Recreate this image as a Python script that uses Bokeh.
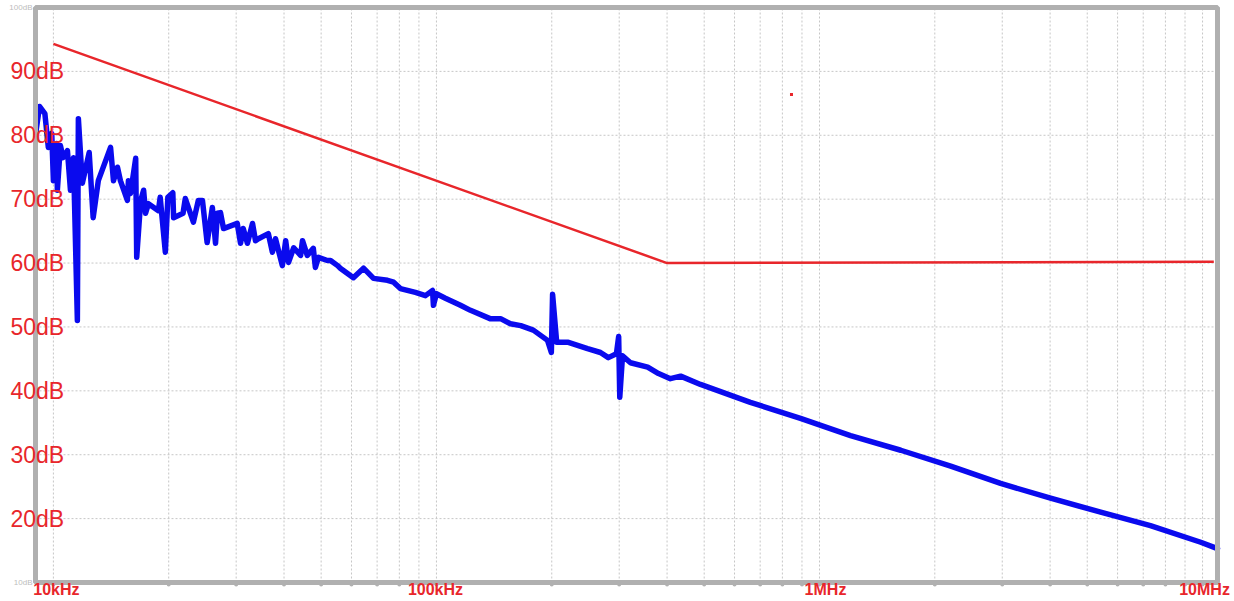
import math
from bokeh.plotting import figure
from bokeh.models import BoxAnnotation, Label, Range1d
from bokeh.embed import file_html
from bokeh.resources import INLINE

# ---------------- data ----------------
emission_freq_khz = [
    9.0, 9.2, 9.5, 9.7, 9.9, 10.0, 10.2, 10.24, 10.43, 10.6,
    10.88, 11.08, 11.28, 11.55, 11.62, 11.9, 12.4, 12.7, 13.1, 14.1,
    14.35, 14.7, 14.96, 15.6, 15.7, 15.9, 16.4, 16.5, 16.9, 17.2,
    17.4, 17.7, 18.8, 19.0, 19.6, 19.9, 20.5, 20.6, 21.8, 22.1,
    23.2, 23.9, 24.5, 25.2, 26.0, 26.5, 26.8, 27.3, 27.8, 30.2,
    30.8, 31.3, 32.1, 33.1, 33.7, 34.3, 36.4, 37.3, 38.0, 39.6,
    40.4, 41.1, 42.4, 44.2, 44.7, 46.0, 47.7, 48.3, 49.2, 51.9,
    52.9, 55.2, 56.1, 60.7, 64.5, 68.5, 74.5, 77.3, 80.5, 88.1,
    93.6, 97.7, 98.2, 100, 105.5, 115.5, 122.7, 138, 147, 156,
    166, 179, 195, 199.5, 201, 206, 221, 248, 268, 281,
    295, 299, 301, 306, 321, 356, 380, 408, 434, 489,
    660, 892, 1205, 1630, 2200, 2970, 4010, 5420, 7310, 9890, 10940,
]
emission_db = [
    80.5, 84.5, 83.4, 78.1, 80.3, 72.9, 78.7, 71.4, 78.4, 76.5,
    77.6, 71.4, 76.5, 51.0, 82.6, 72.5, 77.3, 67.1, 72.9, 78.1,
    72.9, 75.0, 72.9, 69.8, 72.9, 70.9, 76.4, 60.9, 69.8, 71.4,
    67.8, 69.3, 68.2, 70.3, 61.7, 70.3, 71.0, 67.1, 67.8, 70.1,
    66.4, 69.8, 69.8, 63.2, 68.7, 63.1, 67.8, 67.9, 65.4, 66.2,
    63.1, 65.4, 63.1, 66.2, 63.5, 63.8, 64.6, 61.7, 63.8, 59.6,
    63.5, 60.1, 62.4, 61.2, 63.5, 61.2, 62.3, 59.3, 60.9, 60.4,
    60.4, 59.6, 59.2, 57.7, 59.2, 57.6, 57.3, 57.0, 56.0, 55.4,
    54.9, 55.7, 53.4, 55.2, 54.5, 53.4, 52.6, 51.3, 51.3, 50.5,
    50.2, 49.5, 47.9, 46.0, 55.1, 47.6, 47.6, 46.6, 46.0, 45.2,
    45.8, 48.5, 39.0, 45.5, 44.4, 43.7, 42.7, 41.9, 42.3, 41.0,
    38.2, 35.7, 33.0, 30.7, 28.2, 25.5, 23.2, 21.0, 18.9, 16.3, 15.3,
]

limit_freq_khz = [10, 400, 10700]
limit_db = [94.3, 60.0, 60.2]

marker_freq_khz = [845]
marker_db = [86.4]

x_tick_hz = [1e4, 1e5, 1e6, 1e7]
x_tick_labels = ["10kHz", "100kHz", "1MHz", "10MHz"]
y_tick_db = [20, 30, 40, 50, 60, 70, 80, 90]
y_tick_labels = ["20dB", "30dB", "40dB", "50dB", "60dB", "70dB", "80dB", "90dB"]
y_edge_db = [100, 10]
y_edge_labels = ["100dB", "10dB"]

# ---------------- layout ----------------
W, H = 1234, 601
X_MIN, X_MAX = 8980.0, 10.94e6      # plot box, data units
Y_MIN, Y_MAX = 10.0, 100.0
IL, IR, IT, IB = 35, 1217, 7, 582   # plot box edges in canvas pixels
PPD = (IR - IL) / math.log10(X_MAX / X_MIN)   # px per decade
PPDB = (IB - IT) / (Y_MAX - Y_MIN)            # px per dB


def fx(px):
    """canvas x pixel -> frequency (Hz)"""
    return X_MIN * 10 ** ((px - IL) / PPD)


def fy(py):
    """canvas y pixel -> dB"""
    return Y_MIN + (IB - py) / PPDB


RED = "#e8262b"
BLUE = "#0a0aee"
GRAY = "#b0b0b0"
GRID = "#c6c6c6"

p = figure(
    width=W, height=H,
    x_axis_type="log",
    x_range=Range1d(fx(0), fx(W)), y_range=Range1d(fy(H), fy(0)),
    x_axis_location=None, y_axis_location=None,
    output_backend="svg", toolbar_location=None,
    min_border=0, min_border_left=0, min_border_right=0,
    min_border_top=0, min_border_bottom=0,
)
p.title.visible = False
p.background_fill_color = "white"
p.border_fill_color = "white"
p.outline_line_color = None
p.xgrid.visible = False
p.ygrid.visible = False

# grid lines, bounded to the plot box
grid_x = []
for dec in [1e4, 1e5, 1e6]:
    for m in range(1, 10):
        grid_x.append(m * dec)
grid_x.append(1e7)
p.segment(x0=grid_x, y0=[Y_MIN] * len(grid_x), x1=grid_x, y1=[Y_MAX] * len(grid_x),
          line_color=GRID, line_width=1, line_dash="2 2")
p.segment(x0=[X_MIN] * len(y_tick_db), y0=y_tick_db, x1=[X_MAX] * len(y_tick_db), y1=y_tick_db,
          line_color=GRID, line_width=1, line_dash="2 2")

# limit line (red)
p.line([f * 1e3 for f in limit_freq_khz], limit_db, line_color=RED, line_width=2.5)
p.scatter([f * 1e3 for f in marker_freq_khz], marker_db, marker="square",
          size=3, color=RED, line_width=0)

# emission trace (blue)
p.line([f * 1e3 for f in emission_freq_khz], emission_db, line_color=BLUE,
       line_width=5.5, line_join="round", line_cap="round")

# plot box border
p.add_layout(BoxAnnotation(left=X_MIN, right=X_MAX, bottom=Y_MIN, top=Y_MAX,
                           fill_color=None, fill_alpha=0,
                           line_color=GRAY, line_alpha=1.0, line_width=5))

# tick dots on the bottom edge
p.scatter(grid_x, [fy(IB + 2)] * len(grid_x), marker="circle", size=4,
          color=GRAY, line_width=0)

# y labels (red, overlapping left edge)
for v, t in zip(y_tick_db, y_tick_labels):
    p.add_layout(Label(x=fx(10), y=v, text=t, text_color=RED,
                       text_font="Liberation Sans", text_font_size="23px",
                       text_align="left", text_baseline="middle"))

# tiny gray edge labels
for v, t in zip(y_edge_db, y_edge_labels):
    p.add_layout(Label(x=fx(32), y=v, text=t, text_color="#bdbdbd",
                       text_font="Liberation Sans", text_font_size="8px",
                       text_align="right", text_baseline="middle"))

# x labels (red bold, below plot box)
x_label_shift = [3, -1, 6, 2]
for v, t, dx in zip(x_tick_hz, x_tick_labels, x_label_shift):
    p.add_layout(Label(x=v, y=fy(589), text=t, text_color=RED, x_offset=dx,
                       text_font="Liberation Sans", text_font_size="16px",
                       text_font_style="bold",
                       text_align="center", text_baseline="middle"))

open("out.html", "w").write(file_html(p, INLINE))
